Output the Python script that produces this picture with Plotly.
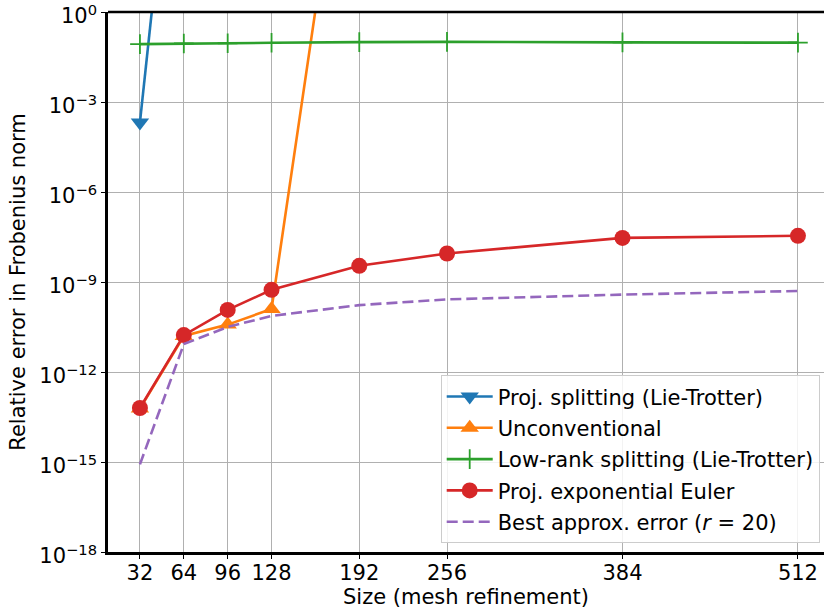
import plotly.graph_objects as go

sizes = [32, 64, 96, 128, 192, 256, 384, 512]

proj_split_x = [32, 64]
proj_split_y = [10**-3.68, 1e10]

uncon_x = [32, 64, 96, 128, 192]
uncon_y = [10**-13.22, 10**-10.8, 10**-10.42, 10**-9.9, 1e10]

lowrank_y = [0.085, 0.089, 0.091, 0.094, 0.099, 0.101, 0.097, 0.095]

projexp_y = [10**-13.2, 10**-10.77, 10**-9.93, 10**-9.26, 10**-8.46, 10**-8.05, 10**-7.53, 10**-7.46]

best_y = [10**-15.08, 10**-11.07, 10**-10.5, 10**-10.13, 10**-9.77, 10**-9.58, 10**-9.42, 10**-9.3]

ytick_exp = [0, -3, -6, -9, -12, -15, -18]

FONT = "DejaVu Sans"
FS = 21
LW = 2.6

fig = go.Figure()
fig.add_trace(go.Scatter(x=proj_split_x, y=proj_split_y, mode="lines+markers",
                         name="Proj. splitting (Lie-Trotter)", legendgroup="a",
                         line=dict(color="#1f77b4", width=LW),
                         marker=dict(symbol="triangle-down", size=16, color="#1f77b4")))
fig.add_trace(go.Scatter(x=uncon_x, y=uncon_y, mode="lines+markers",
                         name="Unconventional", legendgroup="b",
                         line=dict(color="#ff7f0e", width=LW),
                         marker=dict(symbol="triangle-up", size=16, color="#ff7f0e")))
fig.add_trace(go.Scatter(x=sizes, y=lowrank_y, mode="lines+markers",
                         name="Low-rank splitting (Lie-Trotter)", legendgroup="c",
                         line=dict(color="#2ca02c", width=LW),
                         marker=dict(symbol="cross-thin", size=14, color="#2ca02c",
                                     line=dict(color="#2ca02c", width=1.8))))
fig.add_trace(go.Scatter(x=sizes, y=projexp_y, mode="lines+markers",
                         name="Proj. exponential Euler", legendgroup="d",
                         line=dict(color="#d62728", width=LW),
                         marker=dict(symbol="circle", size=16, color="#d62728")))
fig.add_trace(go.Scatter(x=sizes, y=best_y, mode="lines",
                         name="Best approx. error (<i>r</i> = 20)", legendgroup="e",
                         line=dict(color="#9467bd", width=LW, dash="11px,5px")))

tickvals = [10.0**e for e in ytick_exp]
ticktext = ["10<sup>%s</sup>" % (str(e) if e >= 0 else "\u2212" + str(-e)) for e in ytick_exp]

fig.update_layout(
    width=824, height=612,
    margin=dict(l=108, r=0, t=12, b=60, autoexpand=False),
    plot_bgcolor="white", paper_bgcolor="white",
    font=dict(family=FONT, size=FS, color="black"),
    showlegend=True,
    legend=dict(x=0.994, y=0.016, xanchor="right", yanchor="bottom",
                bgcolor="rgba(255,255,255,0.85)", bordercolor="#cccccc", borderwidth=1,
                font=dict(size=FS), tracegroupgap=1, itemwidth=46),
    xaxis=dict(range=[8.7, 531], tickmode="array", tickvals=sizes,
               ticktext=[str(s) for s in sizes], automargin=False,
               showgrid=True, gridcolor="#b0b0b0", gridwidth=1,
               showline=True, linecolor="black", linewidth=2.5,
               ticks="outside", ticklen=4, tickcolor="black", tickwidth=1,
               ticklabelstandoff=-4,
               zeroline=False,
               title=dict(text="Size (mesh refinement)", standoff=2, font=dict(size=FS))),
    yaxis=dict(type="log", range=[-18, 0], tickmode="array", tickvals=tickvals,
               ticktext=ticktext, ticklabeloverflow="allow", automargin=False,
               ticklabelshift=4,
               showgrid=True, gridcolor="#b0b0b0", gridwidth=1,
               showline=True, linecolor="black", linewidth=2.5,
               ticks="outside", ticklen=4, tickcolor="black", tickwidth=1,
               zeroline=False,
               title=dict(text="Relative error in Frobenius norm", standoff=8, font=dict(size=FS))),
    shapes=[dict(type="line", xref="paper", yref="paper", x0=0, x1=1, y0=1, y1=1,
                 line=dict(color="black", width=2.5))],
)

fig.write_html("out.html")
